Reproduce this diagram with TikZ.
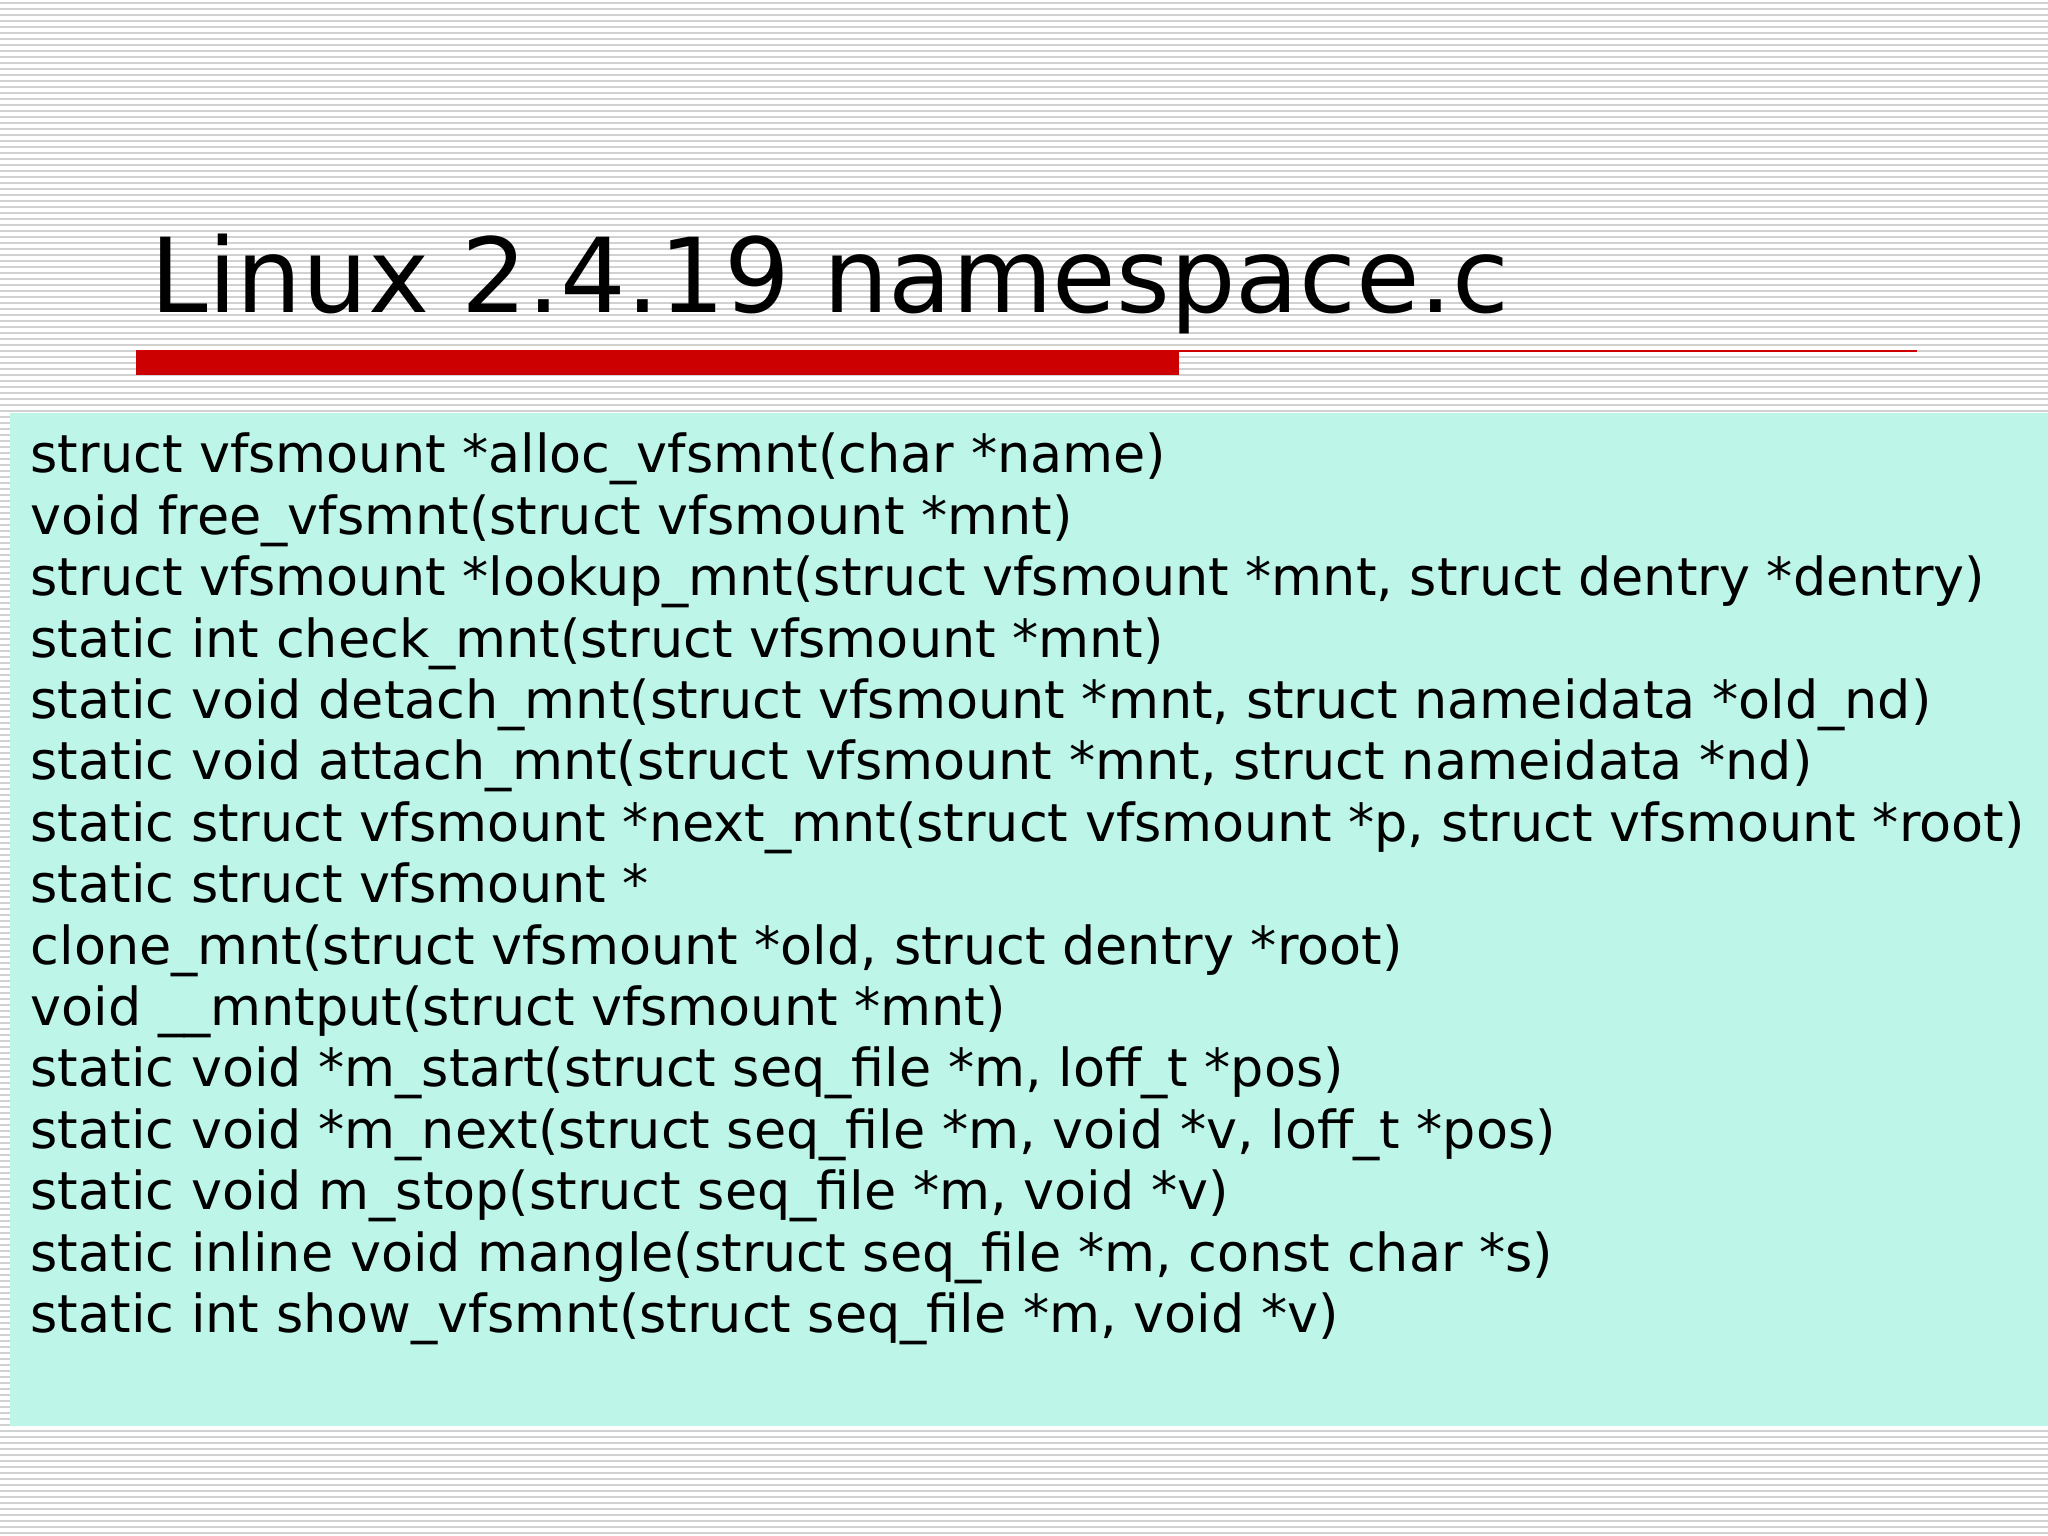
\documentclass[tikz,border=0pt]{standalone}
\usepackage{fontspec}
\setmainfont{DejaVu Sans}
\definecolor{teal0}{HTML}{BDF5E8}
\definecolor{red0}{HTML}{CC0000}
\begin{document}
\begin{tikzpicture}[x=1cm,y=-1cm,
  codeline/.style={anchor=base west,inner sep=0pt,font=\fontsize{14.9}{17}\selectfont}]
\useasboundingbox (0,0) rectangle (20.48,15.36);
\fill[white] (0,0) rectangle (20.48,15.36);
\foreach \i in {0,...,255} {\draw[black!18,line width=0.5pt] (0,\i*0.06+0.03) -- (20.48,\i*0.06+0.03);}
\node[anchor=base west,inner sep=0pt,font=\fontsize{29.4}{35}\selectfont] (title) at (1.50,3.13) {Linux 2.4.19 namespace.c};
\fill[red0] (1.36,3.50) rectangle (11.79,3.75);
\draw[red0,line width=0.8pt] (11.79,3.51) -- (19.17,3.51);
\fill[teal0] (0.10,4.13) rectangle (20.48,14.26);
\foreach [count=\k] \t in {
struct vfsmount *alloc\_vfsmnt(char *name),
void free\_vfsmnt(struct vfsmount *mnt),
{struct vfsmount *lookup\_mnt(struct vfsmount *mnt, struct dentry *dentry)},
static int check\_mnt(struct vfsmount *mnt),
{static void detach\_mnt(struct vfsmount *mnt, struct nameidata *old\_nd)},
{static void attach\_mnt(struct vfsmount *mnt, struct nameidata *nd)},
{static struct vfsmount *next\_mnt(struct vfsmount *p, struct vfsmount *root)},
static struct vfsmount *,
{clone\_mnt(struct vfsmount *old, struct dentry *root)},
void \_\_mntput(struct vfsmount *mnt),
{static void *m\_start(struct seq\_file *m, loff\_t *pos)},
{static void *m\_next(struct seq\_file *m, void *v, loff\_t *pos)},
{static void m\_stop(struct seq\_file *m, void *v)},
{static inline void mangle(struct seq\_file *m, const char *s)},
{static int show\_vfsmnt(struct seq\_file *m, void *v)}}
{\node[codeline] (l\k) at (0.30,4.73+\k*0.614-0.614) {\t};}
\end{tikzpicture}
\end{document}
